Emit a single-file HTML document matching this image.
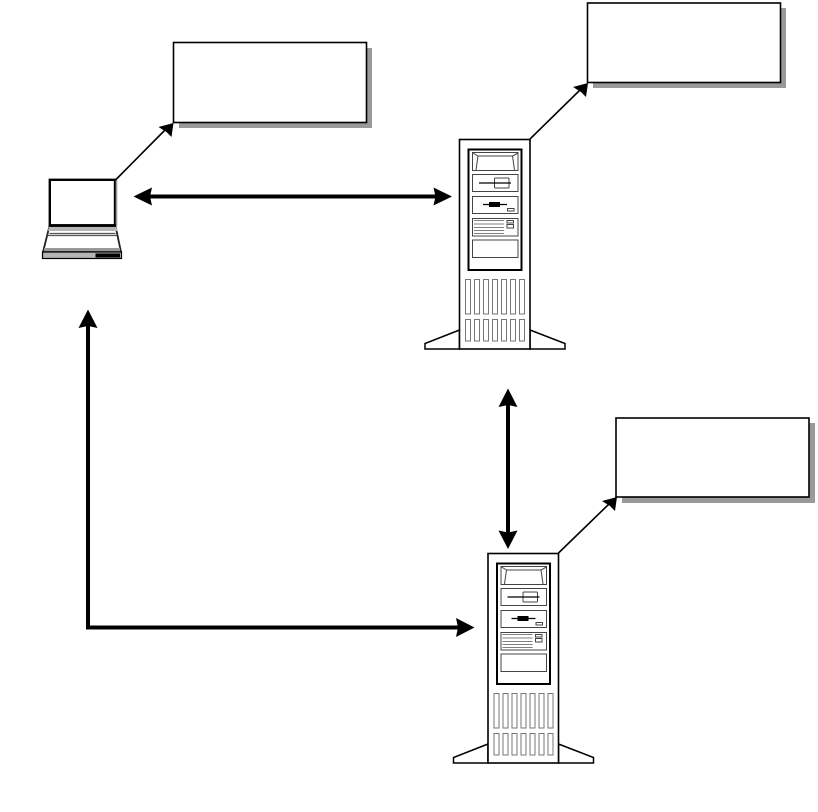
<!DOCTYPE html>
<html>
<head>
<meta charset="utf-8">
<style>
html,body{margin:0;padding:0;background:#fff;width:818px;height:812px;overflow:hidden}
svg{display:block}
</style>
</head>
<body>
<svg width="818" height="812" viewBox="0 0 818 812" xmlns="http://www.w3.org/2000/svg">
<defs>
<g id="srv">
  <path d="M459.5 330 L425 343.5 V349 H459.5 Z M530 330 L565 343.5 V349 H530 Z" fill="#fff" stroke="#000" stroke-width="1.5"/>
  <rect x="459.5" y="139.5" width="70.5" height="209.5" fill="#fff" stroke="#000" stroke-width="1.6"/>
  <rect x="468.5" y="149.5" width="53" height="120.5" fill="#fff" stroke="#000" stroke-width="2"/>
  <g fill="#fff" stroke="#444" stroke-width="1">
    <rect x="472.5" y="152.5" width="45.5" height="18"/>
    <path d="M473 153 L478 156 L476 170 M518 153 L512.5 156 L514.5 170 M478 156 H512.5" fill="none"/>
    <rect x="472.5" y="174.5" width="45.5" height="17"/>
    <rect x="472.5" y="196.5" width="45.5" height="17"/>
    <rect x="472.5" y="218.5" width="45.5" height="17.5"/>
    <rect x="472.5" y="240" width="45.5" height="17.5"/>
    <rect x="494.5" y="178" width="14.5" height="10" rx="1"/>
    <rect x="507.5" y="208.5" width="6.5" height="2.5"/>
    <rect x="507" y="220.5" width="6.5" height="2.5"/>
    <rect x="507" y="224.5" width="6.5" height="3.5"/>
  </g>
  <path d="M479 183 H511" stroke="#000" stroke-width="1.3"/>
  <path d="M483 204.5 H507" stroke="#000" stroke-width="1.2"/>
  <rect x="489" y="202" width="11" height="5" fill="#000"/>
  <path d="M474 220.5 H504 M474 224 H504 M474 227.5 H504 M474 230.5 H504 M474 233.5 H504" stroke="#555" stroke-width="0.8"/>
  <g fill="#fff" stroke="#777" stroke-width="1">
    <rect x="465.5" y="279.5" width="5" height="34.5"/><rect x="474.5" y="279.5" width="5" height="34.5"/><rect x="483.5" y="279.5" width="5" height="34.5"/><rect x="492.5" y="279.5" width="5" height="34.5"/><rect x="501.5" y="279.5" width="5" height="34.5"/><rect x="510.5" y="279.5" width="5" height="34.5"/><rect x="519.5" y="279.5" width="5" height="34.5"/>
    <rect x="465.5" y="319.5" width="5" height="21.5"/><rect x="474.5" y="319.5" width="5" height="21.5"/><rect x="483.5" y="319.5" width="5" height="21.5"/><rect x="492.5" y="319.5" width="5" height="21.5"/><rect x="501.5" y="319.5" width="5" height="21.5"/><rect x="510.5" y="319.5" width="5" height="21.5"/><rect x="519.5" y="319.5" width="5" height="21.5"/>
  </g>
</g>
</defs>

<!-- shadows and boxes -->
<rect x="179" y="48" width="193" height="80" fill="#999"/>
<rect x="173.5" y="42.5" width="193" height="80" fill="#fff" stroke="#000" stroke-width="1.6"/>
<rect x="593" y="8" width="193" height="80" fill="#999"/>
<rect x="587.5" y="3" width="193" height="79.5" fill="#fff" stroke="#000" stroke-width="1.6"/>
<rect x="622" y="423" width="193" height="80" fill="#999"/>
<rect x="616" y="418" width="193" height="79" fill="#fff" stroke="#000" stroke-width="1.6"/>

<!-- servers -->
<use href="#srv"/>
<use href="#srv" transform="translate(28.5,414)"/>

<!-- laptop -->
<path d="M49.5 226 H115.5 L121 252 H43 Z" fill="#fff" stroke="#222" stroke-width="1.8"/>
<path d="M49 226 H116 L117.5 231 H48 Z" fill="#b5b5b5"/>
<path d="M49.5 233.5 H115.5 M47.5 235.5 H117" stroke="#555" stroke-width="1.2" fill="none"/>
<path d="M44 249.5 H120" stroke="#999" stroke-width="3"/>
<rect x="42.5" y="252" width="79" height="6.5" fill="#b5b5b5" stroke="#000" stroke-width="1.2"/>
<rect x="95.5" y="253.5" width="24.5" height="4" fill="#000"/>
<rect x="49.8" y="179.8" width="65.2" height="45.7" fill="#fff" stroke="#000" stroke-width="2.4"/>
<path d="M116.5 180 V226" stroke="#999" stroke-width="1.6"/>
<path d="M49 225.5 H116" stroke="#000" stroke-width="2.8"/>

<!-- thin arrows -->
<g stroke="#000" stroke-width="1.6" fill="none">
  <path d="M115.5 180 L166 129"/>
  <path d="M530 139 L580 90"/>
  <path d="M558.5 553 L609 504"/>
</g>
<g fill="#000">
  <path d="M173.5 123 L171.5 137 L166.5 132 L158.5 127 Z"/>
  <path d="M588 83 L586 97 L581 92 L573 87 Z"/>
  <path d="M617 497 L615 511 L610 506 L602 501 Z"/>
</g>

<!-- thick arrows -->
<g stroke="#000" stroke-width="4" fill="none">
  <path d="M145 196.5 H440"/>
  <path d="M508 402 V535"/>
  <path d="M88 322 V627.5 H462"/>
</g>
<g fill="#000">
  <path d="M133.5 196.5 L152 187.5 L150 196.5 L152 205.5 Z"/>
  <path d="M452 196.5 L433.5 187.5 L435.5 196.5 L433.5 205.5 Z"/>
  <path d="M508 388.5 L498.5 407 L508 405 L517.5 407 Z"/>
  <path d="M508 549 L498.5 530.5 L508 532.5 L517.5 530.5 Z"/>
  <path d="M88 309.5 L78.5 328 L88 326 L97.5 328 Z"/>
  <path d="M474.5 627.5 L456 618 L458 627.5 L456 637 Z"/>
</g>
</svg>
</body>
</html>
